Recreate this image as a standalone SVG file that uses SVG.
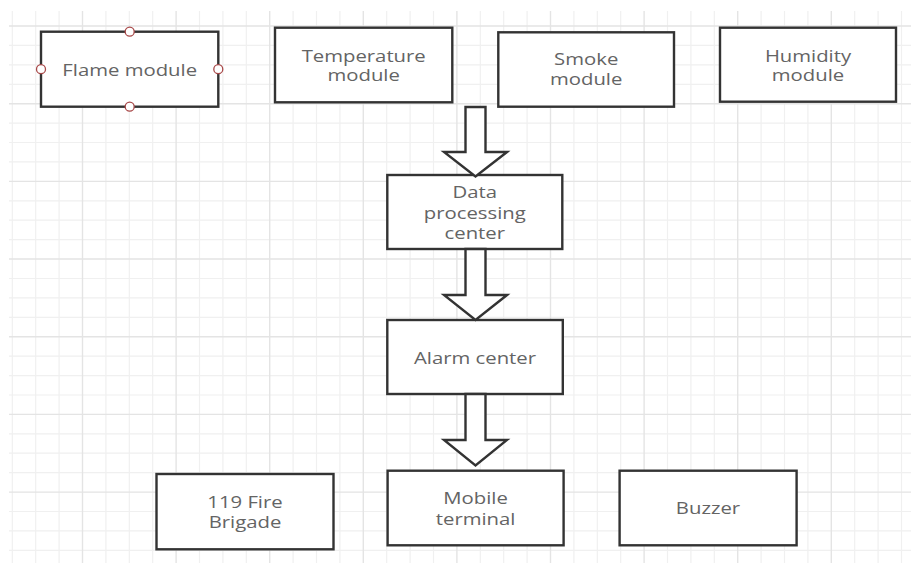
<svg xmlns="http://www.w3.org/2000/svg" width="911" height="563" viewBox="0 0 911 563">
  <style>
    .grid-minor { stroke: #f0f0f0; stroke-width: 1.2; fill: none; }
    .grid-major { stroke: #e4e4e4; stroke-width: 1.4; fill: none; }
    .box { fill: #ffffff; stroke: #333333; stroke-width: 2.4; }
    .label { font-family: "Open Sans", "Noto Sans", "DejaVu Sans", sans-serif; font-size: 16px; fill: #646464; text-anchor: middle; }
    .handle { fill: #ffffff; stroke: #a84848; stroke-width: 1.3; }
    .block-arrow { fill: #ffffff; stroke: #333333; stroke-width: 2.4; stroke-linejoin: miter; }
  </style>

  <rect x="0" y="0" width="911" height="563" fill="#ffffff"/>

  <!-- background grid -->
  <g id="grid">
    <path class="grid-minor" d="M12.3 11V563M35.7 11V563M59.1 11V563M105.9 11V563M129.3 11V563M152.7 11V563M199.5 11V563M222.9 11V563M246.3 11V563M293.1 11V563M316.5 11V563M339.9 11V563M386.7 11V563M410.1 11V563M433.5 11V563M480.3 11V563M503.7 11V563M527.1 11V563M573.9 11V563M597.3 11V563M620.7 11V563M667.5 11V563M690.9 11V563M714.3 11V563M761.1 11V563M784.5 11V563M807.9 11V563M854.7 11V563M878.1 11V563M901.5 11V563"/>
    <path class="grid-minor" d="M9 45.4H911M9 64.8H911M9 84.3H911M9 123.1H911M9 142.5H911M9 161.9H911M9 200.8H911M9 220.2H911M9 239.6H911M9 278.5H911M9 297.9H911M9 317.3H911M9 356.1H911M9 375.6H911M9 395H911M9 433.8H911M9 453.2H911M9 472.7H911M9 511.5H911M9 530.9H911M9 550.3H911"/>
    <path class="grid-major" d="M82.5 11V563M176.1 11V563M269.7 11V563M363.3 11V563M456.9 11V563M550.5 11V563M644.1 11V563M737.7 11V563M831.3 11V563"/>
    <path class="grid-major" d="M9 26H911M9 103.7H911M9 181.4H911M9 259H911M9 336.7H911M9 414.4H911M9 492.1H911"/>
  </g>

  <!-- sensor modules -->
  <g id="flame-module">
    <rect class="box" x="41" y="31.7" width="177.3" height="75"/>
    <text class="label" transform="translate(129.7 75.8) scale(1.27 1)">Flame module</text>
    <circle class="handle" cx="129.7" cy="31.7" r="4.5"/>
    <circle class="handle" cx="41" cy="69.2" r="4.5"/>
    <circle class="handle" cx="218.3" cy="69.2" r="4.5"/>
    <circle class="handle" cx="129.7" cy="106.7" r="4.5"/>
  </g>

  <g id="temperature-module">
    <rect class="box" x="275" y="27.7" width="177.3" height="74.6"/>
    <text class="label" transform="translate(363.7 61.5) scale(1.27 1)"><tspan x="0" y="0">Temperature</tspan><tspan x="0" y="20">module</tspan></text>
  </g>

  <g id="smoke-module">
    <rect class="box" x="498.3" y="32.3" width="175.7" height="74.4"/>
    <text class="label" transform="translate(586.2 64.8) scale(1.27 1)"><tspan x="0" y="0">Smoke</tspan><tspan x="0" y="20">module</tspan></text>
  </g>

  <g id="humidity-module">
    <rect class="box" x="720" y="27.7" width="176" height="74"/>
    <text class="label" transform="translate(808 61.5) scale(1.27 1)"><tspan x="0" y="0">Humidity</tspan><tspan x="0" y="20">module</tspan></text>
  </g>

  <!-- processing chain -->
  <g id="data-processing-center">
    <rect class="box" x="387.3" y="175" width="175" height="74"/>
    <text class="label" transform="translate(474.8 198.3) scale(1.27 1)"><tspan x="0" y="0">Data</tspan><tspan x="0" y="20.4">processing</tspan><tspan x="0" y="40.7">center</tspan></text>
  </g>

  <g id="alarm-center">
    <rect class="box" x="387.3" y="320" width="175.5" height="74"/>
    <text class="label" transform="translate(475 364) scale(1.27 1)">Alarm center</text>
  </g>

  <!-- outputs -->
  <g id="fire-brigade">
    <rect class="box" x="156.5" y="474" width="177" height="75.3"/>
    <text class="label" transform="translate(245 508.3) scale(1.27 1)"><tspan x="0" y="0">119 Fire</tspan><tspan x="0" y="20">Brigade</tspan></text>
  </g>

  <g id="mobile-terminal">
    <rect class="box" x="387.6" y="470.7" width="176" height="74.6"/>
    <text class="label" transform="translate(475.6 504.3) scale(1.27 1)"><tspan x="0" y="0">Mobile</tspan><tspan x="0" y="20.5">terminal</tspan></text>
  </g>

  <g id="buzzer">
    <rect class="box" x="619.6" y="470.7" width="177" height="74.6"/>
    <text class="label" transform="translate(708 514.3) scale(1.27 1)">Buzzer</text>
  </g>

  <!-- block arrows between stages -->
  <g id="connectors">
    <polygon class="block-arrow" points="465.5,107 485.5,107 485.5,152 507,152 475.5,176.5 444,152 465.5,152"/>
    <polygon class="block-arrow" points="465.5,249 485.5,249 485.5,295 507,295 475.5,320 444,295 465.5,295"/>
    <polygon class="block-arrow" points="465.5,394 485.5,394 485.5,440 507,440 475.5,465.5 444,440 465.5,440"/>
  </g>
</svg>
